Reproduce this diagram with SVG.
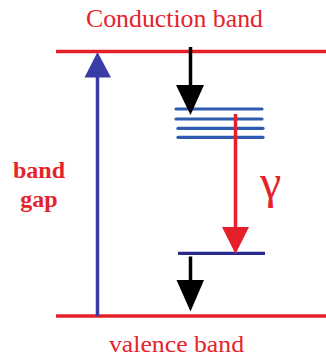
<svg xmlns="http://www.w3.org/2000/svg" width="326" height="356" viewBox="0 0 326 356">
<style>
.lbl{font-family:'Liberation Serif','Times New Roman',Tinos,'DejaVu Serif',serif;fill:#e5232b}
.band{stroke:#e5202a;stroke-width:3.5}
.lvl{stroke:#2f5cb0;stroke-width:3.2;stroke-linecap:round}
</style>
<rect width="326" height="356" fill="#ffffff"/>
<g id="conduction-band">
<line class="band" x1="56" y1="51.5" x2="326" y2="51.5"/>
<text class="lbl" font-family="Liberation Serif, DejaVu Serif, serif" x="86" y="27" font-size="25" textLength="177" lengthAdjust="spacingAndGlyphs">Conduction band</text>
</g>
<g id="valence-band">
<line class="band" x1="56" y1="316" x2="326" y2="316"/>
<text class="lbl" font-family="Liberation Serif, DejaVu Serif, serif" x="109" y="352" font-size="24" textLength="135" lengthAdjust="spacingAndGlyphs">valence band</text>
</g>
<g id="band-gap-label">
<text class="lbl" font-family="Liberation Serif, DejaVu Serif, serif" x="39" y="178" font-size="24" font-weight="bold" text-anchor="middle">band</text>
<text class="lbl" font-family="Liberation Serif, DejaVu Serif, serif" x="39" y="207" font-size="24" font-weight="bold" text-anchor="middle">gap</text>
</g>
<g id="trap-levels">
<line class="lvl" x1="176" y1="109" x2="262" y2="109"/>
<line class="lvl" x1="176" y1="119" x2="262" y2="119"/>
<line class="lvl" x1="178" y1="128.3" x2="263" y2="128.3"/>
<line class="lvl" x1="178" y1="137.3" x2="263" y2="137.3"/>
</g>
<g id="acceptor-level">
<line x1="178" y1="253.3" x2="265" y2="253.3" stroke="#2a2a8e" stroke-width="3.2"/>
</g>
<g id="gamma-label">
<text class="lbl" font-family="Liberation Serif, DejaVu Serif, serif" x="260" y="198" font-size="48">γ</text>
</g>
<g id="connectors">
<line x1="97.5" y1="316" x2="97.5" y2="74" stroke="#3b3ba6" stroke-width="3.5"/>
<polygon points="97.5,52 84.5,77.5 111,77.5" fill="#3b3ba6"/>
<line x1="190.5" y1="47" x2="190.5" y2="88" stroke="#000" stroke-width="3.5"/>
<polygon points="176,85 204,85 190.5,115" fill="#000"/>
<line x1="235.5" y1="114" x2="235.5" y2="230" stroke="#e5202a" stroke-width="3.5"/>
<polygon points="222,227 249,227 235.5,254" fill="#e5202a"/>
<line x1="190.5" y1="256.5" x2="190.5" y2="283" stroke="#000" stroke-width="3.5"/>
<polygon points="176.5,280 204,280 190.5,311.5" fill="#000"/>
</g>
</svg>
